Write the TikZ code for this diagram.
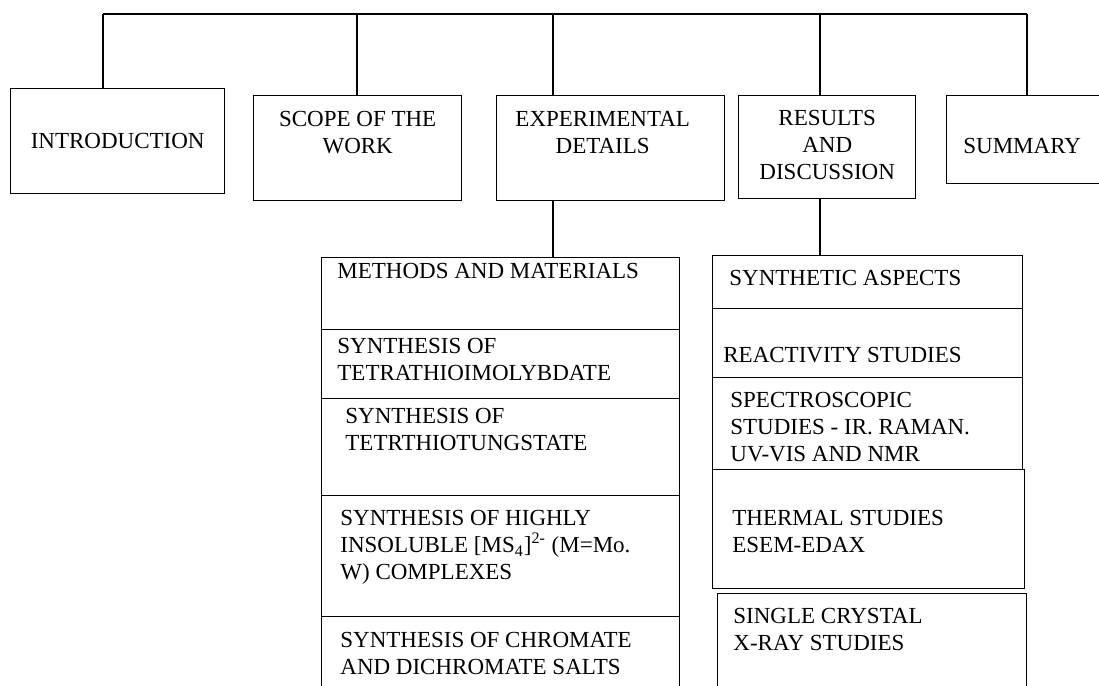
\documentclass[tikz,border=0pt]{standalone}
\usepackage{fontspec}
\setmainfont{Liberation Serif}
\usepackage{tikz}
\usetikzlibrary{positioning}

\tikzset{
	box/.style={draw, line width=0.7pt, inner sep=0pt, anchor=north west},
	txt/.style={inner sep=0pt, align=left, anchor=north west, font=\fontsize{11.5}{13.5}\selectfont},
	toptxt/.style={inner sep=0pt, align=center, font=\fontsize{11.5}{13.5}\selectfont},
	link/.style={line width=0.7pt}
}

\begin{document}
\begin{tikzpicture}[x=0.5pt, y=-0.5pt]
		\clip (0,0) rectangle (1099,686);

		% chapters
		\node[box, minimum width=107pt, minimum height=52.5pt, font=\fontsize{11.5}{13.5}\selectfont] (intro) at (10,88) {INTRODUCTION};
		\node[box, minimum width=104pt, minimum height=52.5pt] (scope) at (253,95) {};
		\node[box, minimum width=114pt, minimum height=52.5pt] (exper) at (496,95) {};
		\node[box, minimum width=88.5pt, minimum height=51.5pt] (results) at (738,95) {};
		\node[box, minimum width=87pt, minimum height=44pt] (summary) at (946,95) {};

		\node[toptxt, anchor=north, below=8pt of scope.north] (tScope) {SCOPE OF THE\\WORK};
		\node[toptxt, anchor=north, below=8pt of exper.north, xshift=-4pt] (tExper) {EXPERIMENTAL\\DETAILS};
		\node[toptxt, anchor=north, below=7.5pt of results.north] (tResults) {RESULTS\\AND\\DISCUSSION};
		\node[toptxt, right=8.5pt of summary.west, yshift=-3pt] (tSummary) {SUMMARY};

		% bus
		\coordinate (j1) at (103,14);
		\coordinate (j2) at (357,14);
		\coordinate (j3) at (553,14);
		\coordinate (j4) at (820,14);
		\coordinate (j5) at (1027,14);
		\draw[link] (j1) -- (j5);
		\draw[link] (j1) -- (j1 |- intro.north);
		\draw[link] (j2) -- (j2 |- scope.north);
		\draw[link] (j3) -- (j3 |- exper.north);
		\draw[link] (j4) -- (j4 |- results.north);
		\draw[link] (j5) -- (j5 |- summary.north);

		% experimental details column
		\node[box, minimum width=179pt, minimum height=36pt] (rMeth) at (321,257) {};
		\node[box, minimum width=179pt, minimum height=34.5pt] (rMolyb) at (321,329) {};
		\node[box, minimum width=179pt, minimum height=48.5pt] (rTung) at (321,398) {};
		\node[box, minimum width=179pt, minimum height=60.5pt] (rInsol) at (321,495) {};
		\node[box, minimum width=179pt, minimum height=52pt] (rChrom) at (321,616) {};

		\node[txt, below right=3pt and 8pt of rMeth.north west] (tMeth) {METHODS AND MATERIALS};
		\node[txt, below right=4.5pt and 8pt of rMolyb.north west] (tMolyb) {SYNTHESIS OF\\TETRATHIOIMOLYBDATE};
		\node[txt, below right=5pt and 12pt of rTung.north west] (tTung) {SYNTHESIS OF\\TETRTHIOTUNGSTATE};
		\node[txt, below right=7.5pt and 9.5pt of rInsol.north west] (tInsol) {SYNTHESIS OF HIGHLY\\INSOLUBLE [MS\textsubscript{4}]\textsuperscript{2-} (M=Mo.\\W) COMPLEXES};
		\node[txt, below right=8pt and 9.5pt of rChrom.north west] (tChrom) {SYNTHESIS OF CHROMATE\\AND DICHROMATE SALTS};

		% results and discussion column
		\node[box, minimum width=155pt, minimum height=26.5pt] (rSynt) at (712,255) {};
		\node[box, minimum width=155pt, minimum height=34.5pt] (rReact) at (712,308) {};
		\node[box, minimum width=155pt, minimum height=46pt] (rSpec) at (712,377) {};
		\node[box, minimum width=156pt, minimum height=59.5pt] (rTherm) at (712,469) {};
		\node[box, minimum width=154.5pt, minimum height=63.5pt] (rXray) at (717,593) {};

		\node[txt, below right=7.5pt and 8.5pt of rSynt.north west] (tSynt) {SYNTHETIC ASPECTS};
		\node[txt, below right=19.5pt and 5.5pt of rReact.north west] (tReact) {REACTIVITY STUDIES};
		\node[txt, below right=7.5pt and 9pt of rSpec.north west] (tSpec) {SPECTROSCOPIC\\STUDIES - IR. RAMAN.\\UV-VIS AND NMR};
		\node[txt, below right=20.5pt and 10pt of rTherm.north west] (tTherm) {THERMAL STUDIES\\ESEM-EDAX};
		\node[txt, below right=7.5pt and 8pt of rXray.north west] (tXray) {SINGLE CRYSTAL\\X-RAY STUDIES};

		\draw[link] (exper.south -| j3) -- (j3 |- rMeth.north);
		\draw[link] (results.south -| j4) -- (j4 |- rSynt.north);
	\end{tikzpicture}
\end{document}
